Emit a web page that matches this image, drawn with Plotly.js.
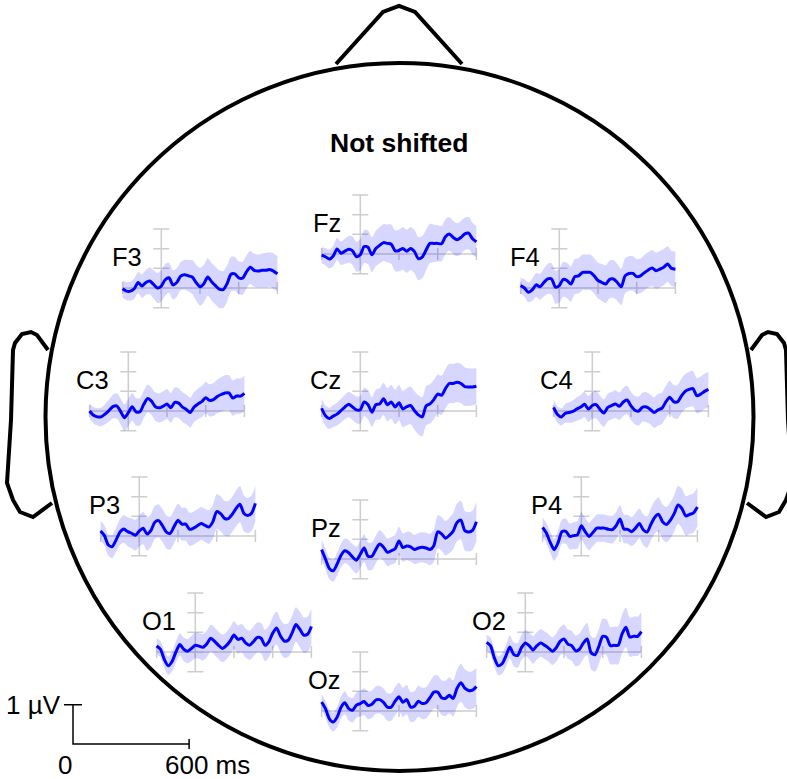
<!DOCTYPE html>
<html><head><meta charset="utf-8">
<script src="https://cdn.plot.ly/plotly-3.0.1.min.js"></script>
<style>html,body{margin:0;padding:0;background:#fff}#chart{width:787px;height:779px}</style>
</head><body><div id="chart"></div>
<script>
// ---------------- DATA ----------------
const time = [-200,-180,-160,-140,-120,-100,-80,-60,-40,-20,0,20,40,60,80,100,120,140,160,180,200,220,240,260,280,300,320,340,360,380,400,420,440,460,480,500,520,540,560,580,600];
const channels = ['F3','Fz','F4','C3','Cz','C4','P3','Pz','P4','O1','Oz','O2'];

const meanF3 = [-0.02,-0.08,-0.08,-0.02,0.14,0.05,0.14,0.18,0.09,0.0,0.05,0.21,0.26,0.08,0.14,0.30,0.34,0.31,0.28,0.14,0.03,0.11,0.28,0.16,0.06,-0.03,-0.04,0.11,0.35,0.36,0.26,0.25,0.41,0.53,0.45,0.43,0.45,0.45,0.47,0.43,0.36];
const meanFz = [-0.03,-0.07,-0.13,-0.05,0.13,0.02,0.07,0.12,0.08,-0.07,-0.02,0.19,0.17,-0.02,0.14,0.22,0.29,0.27,0.25,0.08,0.09,0.14,0.07,0.14,0.06,-0.12,-0.08,0.10,0.27,0.27,0.27,0.26,0.44,0.51,0.42,0.36,0.42,0.51,0.53,0.39,0.31];
const meanF4 = [0.06,0.0,-0.11,-0.05,0.08,0.03,0.14,0.23,0.23,0.02,0.06,0.22,0.19,0.10,0.29,0.31,0.40,0.40,0.40,0.31,0.19,0.14,0.10,0.22,0.23,0.14,0.03,0.31,0.37,0.37,0.29,0.31,0.39,0.46,0.51,0.44,0.48,0.53,0.61,0.50,0.48];
const meanC3 = [0.0,-0.11,-0.15,-0.15,-0.08,0.01,0.11,0.13,-0.01,-0.17,-0.04,0.11,-0.02,-0.02,0.17,0.32,0.25,0.11,0.08,0.12,0.18,0.08,0.22,0.20,0.10,0.04,-0.04,0.10,0.18,0.24,0.34,0.27,0.29,0.37,0.42,0.46,0.46,0.33,0.38,0.38,0.45];
const meanCz = [0.07,-0.12,-0.19,-0.13,-0.08,0.01,0.10,0.17,0.10,0.03,0.03,0.23,0.16,-0.03,0.16,0.18,0.31,0.16,0.23,0.10,0.21,0.05,0.11,0.14,0.01,-0.10,-0.15,0.13,0.18,0.29,0.43,0.40,0.57,0.70,0.70,0.73,0.70,0.62,0.61,0.61,0.63];
const meanC4 = [0.09,-0.09,-0.15,-0.06,-0.04,-0.01,0.05,0.10,0.17,0.05,0.14,0.16,0.04,-0.05,0.09,0.14,0.18,0.12,0.23,0.28,0.13,0.02,0.0,0.10,0.10,0.04,-0.04,0.03,0.07,0.23,0.35,0.24,0.23,0.38,0.50,0.55,0.57,0.39,0.43,0.50,0.55];
const meanP3 = [0.13,0.01,-0.23,-0.27,-0.10,0.10,0.18,0.11,0.07,0.02,0.13,0.20,0.05,0.14,0.35,0.39,0.26,0.10,0.07,0.24,0.40,0.30,0.30,0.17,0.20,0.26,0.32,0.27,0.23,0.36,0.62,0.57,0.45,0.44,0.55,0.70,0.81,0.58,0.52,0.58,0.83];
const meanPz = [0.24,0.0,-0.24,-0.30,-0.13,0.09,0.21,0.16,0.05,-0.03,0.12,0.28,0.07,0.07,0.24,0.38,0.30,0.17,0.21,0.26,0.46,0.29,0.33,0.31,0.24,0.28,0.30,0.28,0.24,0.34,0.69,0.64,0.53,0.60,0.71,0.93,0.99,0.72,0.69,0.73,0.95];
const meanP4 = [0.22,0.07,-0.17,-0.35,-0.17,0.11,0.12,-0.01,0.01,0.03,0.26,0.11,-0.01,0.09,0.20,0.20,0.20,0.17,0.16,0.26,0.43,0.18,0.17,0.11,0.20,0.32,0.16,0.10,0.30,0.48,0.55,0.36,0.29,0.40,0.57,0.79,0.70,0.51,0.55,0.59,0.74];
const meanO1 = [0.15,0.07,-0.19,-0.35,-0.24,0.0,0.19,0.07,0.02,0.09,0.17,0.15,0.12,0.21,0.35,0.27,0.17,0.09,0.16,0.28,0.43,0.32,0.35,0.23,0.17,0.26,0.37,0.35,0.17,0.26,0.48,0.61,0.41,0.28,0.30,0.48,0.70,0.58,0.43,0.45,0.65];
const meanOz = [0.23,0.06,-0.20,-0.28,-0.16,0.09,0.21,0.06,0.02,0.15,0.19,0.24,0.14,0.17,0.28,0.29,0.22,0.10,0.10,0.25,0.36,0.22,0.29,0.10,0.12,0.25,0.19,0.21,0.34,0.48,0.48,0.34,0.32,0.40,0.32,0.58,0.72,0.58,0.52,0.53,0.62];
const meanO2 = [0.24,0.16,-0.15,-0.35,-0.30,-0.10,0.13,-0.06,-0.09,0.11,0.23,0.16,0.05,0.16,0.23,0.17,0.10,0.02,0.11,0.27,0.33,0.20,0.16,0.03,0.07,0.23,0.33,-0.02,-0.07,0.14,0.40,0.37,0.16,0.17,0.17,0.46,0.63,0.38,0.40,0.40,0.52];

const seF3 = [0.22,0.23,0.24,0.26,0.27,0.30,0.32,0.34,0.36,0.38,0.40,0.40,0.38,0.37,0.36,0.36,0.38,0.40,0.43,0.46,0.48,0.48,0.48,0.48,0.48,0.48,0.47,0.46,0.44,0.43,0.42,0.42,0.42,0.42,0.42,0.42,0.43,0.44,0.44,0.45,0.45];
const seFz = [0.20,0.22,0.24,0.26,0.28,0.30,0.32,0.34,0.36,0.38,0.40,0.42,0.43,0.44,0.45,0.46,0.47,0.48,0.50,0.52,0.53,0.54,0.55,0.55,0.55,0.55,0.54,0.52,0.50,0.48,0.46,0.45,0.44,0.43,0.42,0.42,0.42,0.41,0.41,0.40,0.40];
const seF4 = [0.20,0.22,0.25,0.28,0.30,0.33,0.35,0.38,0.40,0.42,0.43,0.44,0.45,0.45,0.45,0.45,0.45,0.45,0.45,0.45,0.46,0.47,0.48,0.48,0.48,0.47,0.46,0.45,0.44,0.44,0.44,0.44,0.45,0.45,0.46,0.46,0.46,0.46,0.45,0.45,0.45];
const seC3 = [0.20,0.21,0.22,0.24,0.26,0.28,0.30,0.32,0.33,0.34,0.35,0.35,0.35,0.35,0.35,0.35,0.35,0.36,0.37,0.38,0.38,0.38,0.38,0.38,0.38,0.38,0.38,0.38,0.39,0.40,0.40,0.41,0.42,0.43,0.44,0.45,0.45,0.45,0.45,0.45,0.45];
const seCz = [0.25,0.26,0.27,0.28,0.29,0.30,0.31,0.32,0.33,0.34,0.35,0.36,0.37,0.38,0.39,0.40,0.41,0.42,0.43,0.44,0.45,0.46,0.47,0.48,0.49,0.50,0.50,0.50,0.50,0.50,0.50,0.50,0.50,0.50,0.50,0.50,0.50,0.49,0.48,0.47,0.46];
const seC4 = [0.20,0.21,0.22,0.24,0.26,0.28,0.30,0.31,0.32,0.33,0.34,0.35,0.35,0.35,0.35,0.35,0.35,0.35,0.36,0.36,0.36,0.36,0.37,0.37,0.38,0.38,0.39,0.40,0.40,0.41,0.42,0.42,0.43,0.44,0.44,0.45,0.45,0.45,0.45,0.45,0.45];
const seP3 = [0.25,0.26,0.27,0.29,0.31,0.33,0.35,0.37,0.38,0.39,0.40,0.41,0.42,0.42,0.42,0.42,0.42,0.42,0.42,0.42,0.42,0.42,0.42,0.42,0.42,0.42,0.42,0.42,0.43,0.43,0.44,0.44,0.44,0.45,0.45,0.46,0.46,0.46,0.45,0.45,0.45];
const sePz = [0.25,0.26,0.27,0.28,0.29,0.30,0.31,0.32,0.33,0.34,0.35,0.35,0.35,0.35,0.35,0.35,0.35,0.35,0.35,0.36,0.36,0.36,0.36,0.37,0.37,0.38,0.38,0.39,0.40,0.41,0.42,0.43,0.44,0.45,0.46,0.48,0.49,0.50,0.50,0.50,0.50];
const seP4 = [0.25,0.26,0.27,0.28,0.30,0.31,0.32,0.33,0.34,0.35,0.35,0.35,0.35,0.35,0.35,0.35,0.35,0.35,0.35,0.35,0.36,0.36,0.37,0.37,0.38,0.38,0.39,0.40,0.41,0.42,0.43,0.44,0.45,0.46,0.47,0.48,0.50,0.50,0.50,0.50,0.50];
const seO1 = [0.20,0.21,0.22,0.23,0.25,0.27,0.28,0.30,0.31,0.32,0.33,0.33,0.34,0.34,0.34,0.35,0.35,0.35,0.35,0.35,0.35,0.36,0.36,0.37,0.37,0.38,0.38,0.39,0.40,0.40,0.41,0.42,0.42,0.43,0.43,0.44,0.44,0.45,0.45,0.45,0.45];
const seOz = [0.20,0.21,0.22,0.24,0.26,0.28,0.29,0.30,0.31,0.32,0.33,0.34,0.35,0.35,0.35,0.35,0.35,0.35,0.35,0.36,0.36,0.37,0.37,0.38,0.38,0.39,0.40,0.40,0.41,0.42,0.43,0.44,0.45,0.46,0.46,0.47,0.48,0.48,0.48,0.48,0.48];
const seO2 = [0.20,0.21,0.22,0.24,0.26,0.28,0.29,0.30,0.31,0.32,0.33,0.34,0.35,0.35,0.35,0.35,0.35,0.35,0.36,0.36,0.37,0.37,0.38,0.39,0.40,0.40,0.41,0.42,0.43,0.44,0.45,0.46,0.47,0.48,0.48,0.49,0.50,0.50,0.50,0.50,0.50];

const xTicks = [-200, 0, 200, 400, 600];
const yTicks = [-0.5, 0, 0.5, 1, 1.5];
const titleText = 'Not shifted';
const scaleMs = 600;
const scaleUv = 1;
const scaleLabelY = '1 µV';
const scaleLabelX0 = '0';
const scaleLabelX1 = '600 ms';

// ---------------- LAYOUT / STYLE ----------------
const means = {F3:meanF3,Fz:meanFz,F4:meanF4,C3:meanC3,Cz:meanCz,C4:meanC4,P3:meanP3,Pz:meanPz,P4:meanP4,O1:meanO1,Oz:meanOz,O2:meanO2};
const ses = {F3:seF3,Fz:seFz,F4:seF4,C3:seC3,Cz:seCz,C4:seC4,P3:seP3,Pz:sePz,P4:seP4,O1:seO1,Oz:seOz,O2:seO2};

const W = 787, H = 779;
const pxPerMs = 154.8 / 800, pxPerUv = 39.3;
// pixel position of (200 ms centre, 0 µV baseline) for every electrode panel
const panelPos = {F3:[200,288],Fz:[399,254],F4:[598,288],C3:[167,411],Cz:[399,411],C4:[631,411],
                  P3:[178,536],Pz:[399,559],P4:[620,536],O1:[234,652],Oz:[399,711],O2:[564,652]};
const FONT = 'Liberation Sans, Arial, sans-serif';
const xr = [-260, 660], yr = [-1.2, 2.0];

const data = [];
const layout = {
  width: W, height: H, margin: {l:0,r:0,t:0,b:0},
  paper_bgcolor: '#fff', plot_bgcolor: 'rgba(0,0,0,0)',
  showlegend: false, shapes: [], annotations: []
};

function domains(px0, py0, xRange, yRange, xRef, yRef) {
  const left = px0 + (xRange[0] - xRef) * pxPerMs;
  const right = px0 + (xRange[1] - xRef) * pxPerMs;
  const top = py0 - (yRange[1] - yRef) * pxPerUv;
  const bottom = py0 - (yRange[0] - yRef) * pxPerUv;
  return {x: [left / W, right / W], y: [1 - bottom / H, 1 - top / H]};
}

const tickHalfV = 6 / pxPerUv;
const tickHalfH = 8 / pxPerMs;

channels.forEach((ch, i) => {
  const n = i + 1;
  const xa = 'x' + n, ya = 'y' + n;
  const d = domains(panelPos[ch][0], panelPos[ch][1], xr, yr, 200, 0);
  layout['xaxis' + n] = {domain: d.x, range: xr, visible: false, fixedrange: true, anchor: ya};
  layout['yaxis' + n] = {domain: d.y, range: yr, visible: false, fixedrange: true, anchor: xa};

  const ax = [], ay = [];
  ax.push(xTicks[0], xTicks[xTicks.length-1], null); ay.push(0, 0, null);
  ax.push(0, 0, null); ay.push(yTicks[0], yTicks[yTicks.length-1], null);
  xTicks.forEach(t => { ax.push(t, t, null); ay.push(-tickHalfV, tickHalfV, null); });
  yTicks.forEach(v => { ax.push(-tickHalfH, tickHalfH, null); ay.push(v, v, null); });
  data.push({type:'scatter', mode:'lines', x: ax, y: ay, xaxis: xa, yaxis: ya,
             line:{color:'#cdcdcd', width:1.5}, hoverinfo:'skip'});

  const m = means[ch], s = ses[ch];
  const up = m.map((v, k) => v + s[k]);
  const lo = m.map((v, k) => v - s[k]);
  data.push({type:'scatter', mode:'lines', x: time, y: up, xaxis: xa, yaxis: ya,
             line:{width:0, shape:'spline', smoothing:0.8}, hoverinfo:'skip'});
  data.push({type:'scatter', mode:'lines', x: time, y: lo, xaxis: xa, yaxis: ya,
             line:{width:0, shape:'spline', smoothing:0.8}, fill:'tonexty',
             fillcolor:'rgba(0,0,255,0.16)', hoverinfo:'skip'});
  data.push({type:'scatter', mode:'lines', x: time, y: m, xaxis: xa, yaxis: ya,
             line:{color:'#0000ff', width:3, shape:'spline', smoothing:0.7}, hoverinfo:'skip'});

  layout.annotations.push({xref: xa, yref: ya, x: -88, y: 0.78, text: ch, showarrow: false,
    xanchor: 'right', yanchor: 'middle', font: {family: FONT, size: 25.5, color: '#000'}});
});

// scale bar panel
{
  const n = channels.length + 1;
  const xa = 'x' + n, ya = 'y' + n;
  const sxr = [-150, 700], syr = [-0.8, 1.4];
  const d = domains(73, 744, sxr, syr, 0, 0);
  layout['xaxis' + n] = {domain: d.x, range: sxr, visible: false, fixedrange: true, anchor: ya};
  layout['yaxis' + n] = {domain: d.y, range: syr, visible: false, fixedrange: true, anchor: xa};
  const tH = 9 / pxPerMs, tV = 5 / pxPerUv;
  data.push({type:'scatter', mode:'lines', xaxis: xa, yaxis: ya, hoverinfo:'skip',
    x: [0, 0, scaleMs, null, -tH, tH, null, scaleMs, scaleMs],
    y: [scaleUv, 0, 0, null, scaleUv, scaleUv, null, -tV, tV],
    line: {color:'#000', width:1.5}});
  const f = {family: FONT, size: 26, color: '#000'};
  layout.annotations.push({xref: xa, yref: ya, x: -10 / pxPerMs, y: scaleUv, text: scaleLabelY,
    showarrow:false, xanchor:'right', yanchor:'middle', font:f});
  layout.annotations.push({xref: xa, yref: ya, x: -8 / pxPerMs, y: -21 / pxPerUv, text: scaleLabelX0,
    showarrow:false, xanchor:'center', yanchor:'middle', font:f});
  layout.annotations.push({xref: xa, yref: ya, x: (163 - 73) / pxPerMs, y: -21 / pxPerUv, text: scaleLabelX1,
    showarrow:false, xanchor:'left', yanchor:'middle', font:f});
}

// title
layout.annotations.push({xref:'paper', yref:'paper', x: 399 / W, y: 1 - 143 / H, text: '<b>' + titleText + '</b>',
  showarrow:false, xanchor:'center', yanchor:'middle', font:{family: FONT, size: 26.5, color:'#000'}});

// head outline (decoration)
const px = x => x / W, py = y => 1 - y / H;
const headC = [399.5, 417], headR = 354;
const headLine = {color:'#000', width:4};
layout.shapes.push({type:'circle', xref:'paper', yref:'paper', layer:'below',
  x0: px(headC[0]-headR), x1: px(headC[0]+headR), y0: py(headC[1]+headR), y1: py(headC[1]-headR), line: headLine});
function pathFrom(pts) { return pts.map((p, k) => (k ? 'L' : 'M') + px(p[0]).toFixed(5) + ',' + py(p[1]).toFixed(5)).join(' '); }
const nosePts = [[336,64],[383,12],[399,6],[415,12],[462,64]];
const earL = [[48,350],[37,335],[31,332],[22,334],[15,343],[13,350],[11,420],[7,483],[13,500],[20,512],[33,517],[52,503]];
const earR = earL.map(p => [2*headC[0] - p[0], p[1]]);
[nosePts, earL, earR].forEach(pts => layout.shapes.push({type:'path', xref:'paper', yref:'paper', layer:'below',
  path: pathFrom(pts), line: Object.assign({}, headLine)}));

Plotly.newPlot('chart', data, layout, {staticPlot: true, displayModeBar: false});
</script></body></html>
